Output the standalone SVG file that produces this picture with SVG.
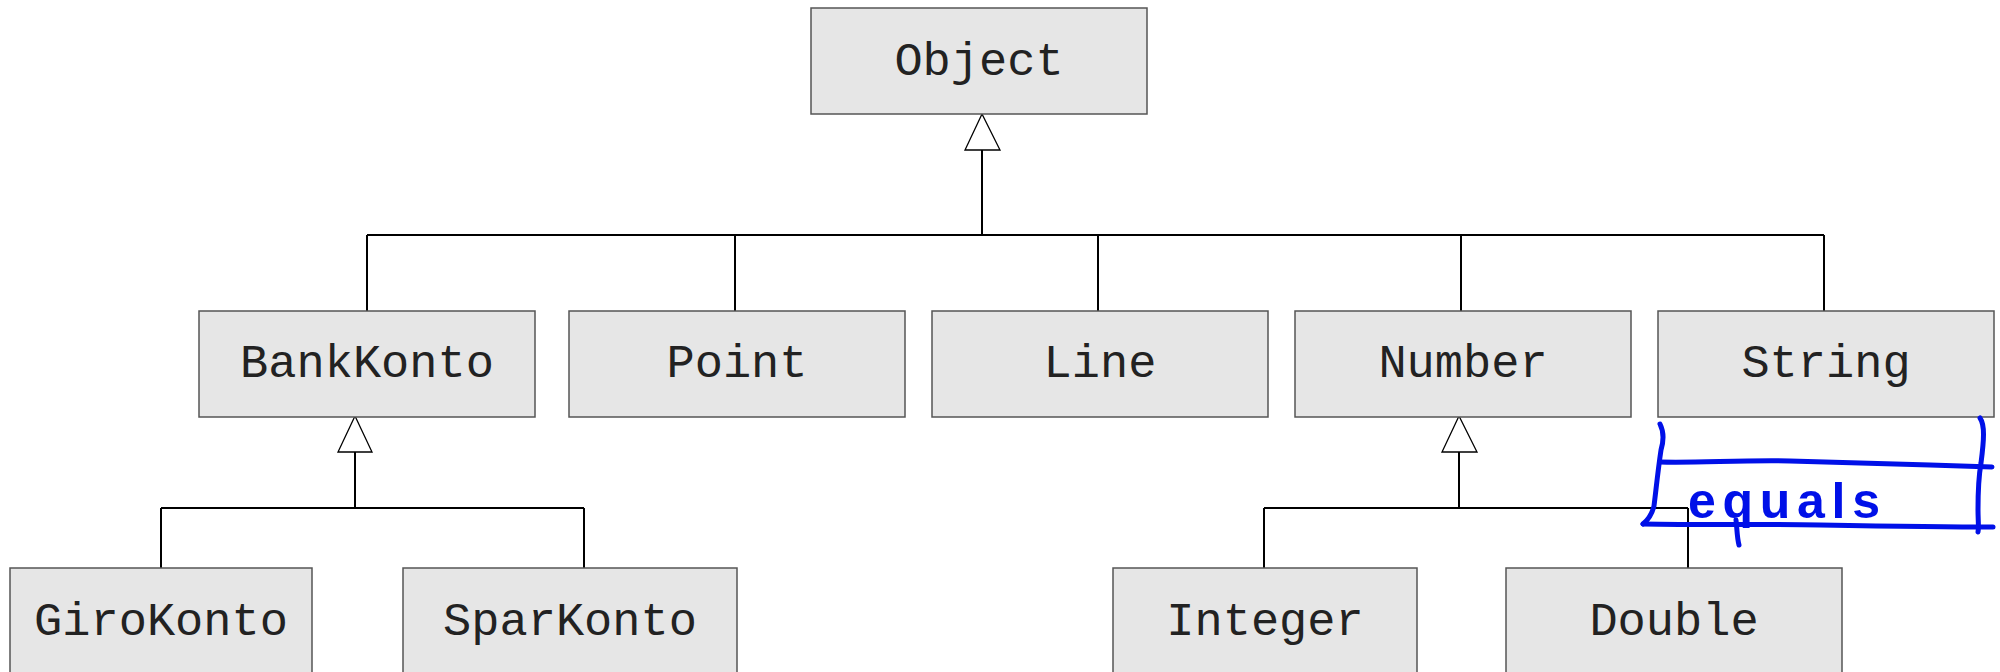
<svg xmlns="http://www.w3.org/2000/svg" width="2000" height="672" viewBox="0 0 2000 672">
<style>
.box{fill:#e6e6e6;stroke:#555;stroke-width:1.5}
.lbl{font-family:"Liberation Mono","Courier New",monospace;font-size:47px;fill:#222;text-anchor:middle}
.ln{stroke:#000;stroke-width:2;fill:none}
.tri{fill:#fff;stroke:#000;stroke-width:1.3}
.ink{stroke:#0010e8;stroke-width:5;fill:none;stroke-linecap:round;stroke-linejoin:round}
</style>
<rect width="2000" height="672" fill="#fff"/>
<g id="connectors">
<path class="ln" d="M982 150V235M367 235H1824M367 235V311M735 235V311M1098 235V311M1461 235V311M1824 235V311"/>
<polygon class="tri" points="982,114 965,150 1000,150"/>
<path class="ln" d="M355 452V508M161 508H584M161 508V568M584 508V568"/>
<polygon class="tri" points="355,416 338,452 372,452"/>
<path class="ln" d="M1459 452V508M1264 508H1688M1264 508V568M1688 508V568"/>
<polygon class="tri" points="1459,416 1442,452 1477,452"/>
</g>
<g id="Object"><rect class="box" x="811" y="8" width="336" height="106"/><text class="lbl" x="979" y="75">Object</text></g>
<g id="BankKonto"><rect class="box" x="199" y="311" width="336" height="106"/><text class="lbl" x="367" y="377">BankKonto</text></g>
<g id="Point"><rect class="box" x="569" y="311" width="336" height="106"/><text class="lbl" x="737" y="377">Point</text></g>
<g id="Line"><rect class="box" x="932" y="311" width="336" height="106"/><text class="lbl" x="1100" y="377">Line</text></g>
<g id="Number"><rect class="box" x="1295" y="311" width="336" height="106"/><text class="lbl" x="1463" y="377">Number</text></g>
<g id="String"><rect class="box" x="1658" y="311" width="336" height="106"/><text class="lbl" x="1826" y="377">String</text></g>
<g id="GiroKonto"><rect class="box" x="10" y="568" width="302" height="106"/><text class="lbl" x="161" y="635">GiroKonto</text></g>
<g id="SparKonto"><rect class="box" x="403" y="568" width="334" height="106"/><text class="lbl" x="570" y="635">SparKonto</text></g>
<g id="Integer"><rect class="box" x="1113" y="568" width="304" height="106"/><text class="lbl" x="1265" y="635">Integer</text></g>
<g id="Double"><rect class="box" x="1506" y="568" width="336" height="106"/><text class="lbl" x="1674" y="635">Double</text></g>
<g id="annotation">
<path class="ink" d="M1660 424C1664 432 1664 440 1661 450C1658 470 1656 490 1654 506C1652 514 1648 520 1643 524"/>
<path class="ink" d="M1660 462C1700 463 1740 460 1790 461C1840 462 1880 464 1930 465L1992 467"/>
<path class="ink" d="M1643 524C1700 525 1760 524 1820 525C1880 526 1940 527 1993 527"/>
<path class="ink" d="M1980 418C1985 425 1984 440 1981 463C1978 480 1978 495 1978 510C1978 520 1979 528 1978 532"/>
<path class="ink" d="M1736 520C1737 528 1737 538 1739 545"/>
<text x="1688" y="518" font-family="Liberation Sans, Arial, sans-serif" font-size="50" font-weight="bold" fill="#0010e8" textLength="192" lengthAdjust="spacing">equals</text>
</g>
</svg>
